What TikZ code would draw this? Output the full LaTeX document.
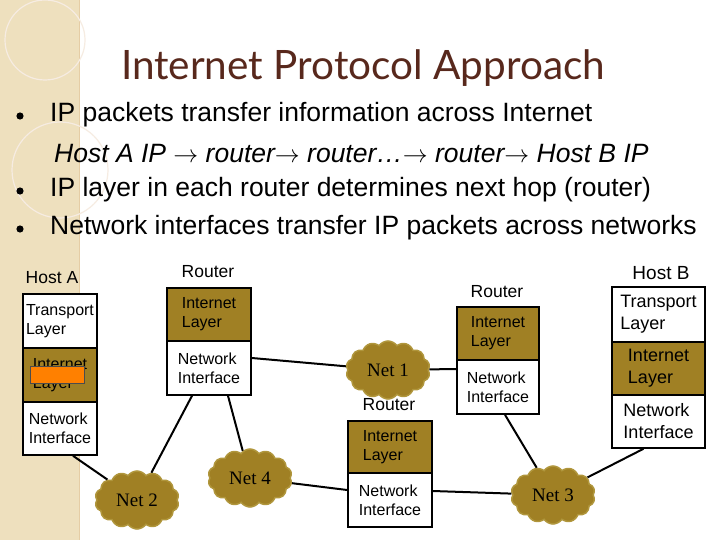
\documentclass[tikz,border=0pt]{standalone}
\usepackage{fontspec}
\setmainfont{Liberation Sans}
\newfontfamily\titlefont{Lato}
\newfontfamily\netfont{Liberation Serif}
\usetikzlibrary{ shapes.symbols, calc, positioning }
\definecolor{olive}{RGB}{160,128,36}
\definecolor{puff}{RGB}{176,150,60}
\definecolor{strip}{RGB}{238,224,190}
\definecolor{titlebrown}{RGB}{88,40,28}
\tikzset{
every node/.style={inner sep=1pt},
layer/.style={draw, line width=1.6pt, inner sep=0pt, align=left, font=\fontsize{16}{19}\selectfont}, % one layer of a stack
ip/.style={layer, fill=olive}, % internet layer
net/.style={cloud, cloud puffs=14, cloud puff arc=110, aspect=1.5, minimum width=84, minimum height=58, fill=olive, draw=puff, line width=1.5pt, inner sep=4pt, font=\fontsize{19}{22}\selectfont\netfont},
tag/.style={font=\fontsize{17.5}{20}\selectfont},
link/.style={line width=2pt},
bullet/.style={font=\fontsize{26.5}{30}\selectfont, anchor=west},
}
\begin{document}
\begin{tikzpicture}[x=1pt,y=-1pt]
  \useasboundingbox (0,0) rectangle (720,540);
  \fill[white] (0,0) rectangle (720,540);
  \fill[strip] (0,0) rectangle (79,540);
  \draw[strip!80!brown, line width=0.6pt] (79,0) -- (79,540);
  \draw[white!85!brown, line width=1.2pt] (45,40) circle (40);
  \draw[white!85!brown, line width=1.2pt] (60,170) circle (48);

  % title and bullets
  \node[font=\titlefont\fontsize{40.5}{44}\selectfont, text=titlebrown] (title) at (363,68) {Internet Protocol Approach};
  \node[bullet] (b1) at (49,115) {IP packets transfer information across Internet};
  \node[bullet] (b1a) at (53,154) {\itshape Host A IP $\rightarrow$ router$\rightarrow$ router\ldots$\rightarrow$ router$\rightarrow$ Host B IP};
  \node[bullet] (b2) at (49,190) {IP layer in each router determines next hop (router)};
  \node[bullet] (b3) at (49,228) {Network interfaces transfer IP packets across networks};
  \foreach \y in {115,190,228} \fill (20,\y+1) circle (3.6);

  % Host A
  \node[tag] (hA) at (52,278) {Host A};
  \node[layer, fill=white, minimum width=74, minimum height=54] (aT) at (60,321) {Transport\\Layer};
  \node[ip, minimum width=74, minimum height=54] (aI) at (60,375) {Internet\\Layer};
  \node[layer, fill=white, minimum width=74, minimum height=53] (aN) at (60,428.5) {Network\\Interface};
  \node[draw=black!70, fill=orange, minimum width=54, minimum height=17, inner sep=0pt] (mark) at (57,375) {};

  % Router 1
  \node[tag] (r1) at (208,272) {Router};
  \node[ip, minimum width=84, minimum height=53] (r1I) at (209,314.5) {Internet\\Layer};
  \node[layer, fill=white, minimum width=84, minimum height=54] (r1N) at (209,368) {Network\\Interface};

  % Router 2
  \node[tag] (r2) at (497,292) {Router};
  \node[ip, minimum width=82, minimum height=53] (r2I) at (498,333.5) {Internet\\Layer};
  \node[layer, fill=white, minimum width=82, minimum height=54] (r2N) at (498,387) {Network\\Interface};

  % Router 3
  \node[tag] (r3) at (389,405) {Router};
  \node[ip, minimum width=84, minimum height=52] (r3I) at (390,447) {Internet\\Layer};
  \node[layer, fill=white, minimum width=84, minimum height=54] (r3N) at (390,500) {Network\\Interface};

  % Host B
  \node[tag, font=\fontsize{19}{22}\selectfont] (hB) at (661,273) {Host B};
  \node[layer, fill=white, minimum width=93, minimum height=55, font=\fontsize{18}{22}\selectfont] (bT) at (658.5,314.5) {Transport\\Layer};
  \node[ip, minimum width=93, minimum height=53, font=\fontsize{18}{22}\selectfont] (bI) at (658.5,368.5) {Internet\\Layer};
  \node[layer, fill=white, minimum width=93, minimum height=53, font=\fontsize{18}{22}\selectfont] (bN) at (658.5,421.5) {Network\\Interface};

  % networks
  \node[net] (n1) at (388,370) {Net 1};
  \node[net] (n2) at (137,500) {Net 2};
  \node[net] (n4) at (250,478) {Net 4};
  \node[net] (n3) at (553,495) {Net 3};

  \draw[link] ([xshift=13]aN.south) -- (n2);
  \draw[link] ([xshift=-17]r1N.south) -- (n2);
  \draw[link] ([xshift=19]r1N.south) -- (n4);
  \draw[link] ([yshift=10]r1N.east) -- (n1);
  \draw[link] (n1) -- ([yshift=18]r2N.west);
  \draw[link] ([xshift=7]r2N.south) -- (n3);
  \draw[link] (n3) -- ([xshift=-15]bN.south);
  \draw[link] (n4) -- ([yshift=10]r3N.west);
  \draw[link] ([yshift=9]r3N.east) -- (n3);
\end{tikzpicture}
\end{document}
